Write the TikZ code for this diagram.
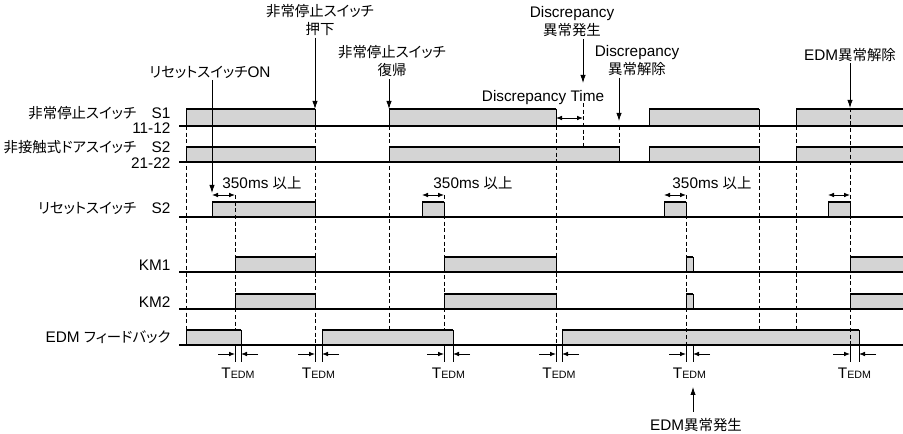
\documentclass[tikz,border=0pt]{standalone}
\usepackage{fontspec}
\setmainfont{Liberation Sans}
\newfontfamily\jp[Scale=0.94,RawFeature=+palt]{Noto Sans CJK JP}
\usetikzlibrary{arrows.meta}

% one high phase of a signal: x from, x to, low level, high level
\newcommand{\tpulse}[4]{%
  \fill[pulsefill] (#1,#3) rectangle (#2,#4);
  \draw[pedge] (#1,#3) -- (#1,#4);
  \draw[pedge] (#2,#4) -- (#2,#3);
  \draw[hiline] (#1,#4) -- (#2,#4);
}
% TEDM gap marker below the EDM line
\newcommand{\tedm}[3]{%
  \draw[pedge] (#1,345) -- (#1,362) (#2,345) -- (#2,362);
  \draw[dim] (#1-17,354) -- (#1,354);
  \draw[dim] (#2+17,354) -- (#2,354);
  \node (#3) at ({(#1+#2)/2},373) {T{\fontsize{8}{9}\selectfont EDM}};
}

\begin{document}
\begin{tikzpicture}[
  x=0.75pt, y=-0.75pt,
  every node/.style={inner sep=1pt, font=\fontsize{11.5}{13.5}\selectfont},
  lbl/.style={anchor=east},
  note/.style={align=center},
  pulsefill/.style={fill=black!17},
  pedge/.style={line width=0.6pt},
  hiline/.style={line width=1.8pt},
  base/.style={line width=0.8pt},
  guide/.style={dash pattern=on 3pt off 2pt, line width=0.6pt},
  arrow/.style={-{Latex[length=6pt,width=4pt]}, line width=0.6pt},
  dim/.style={-{Latex[length=4.5pt,width=3.5pt]}, line width=0.6pt},
  dimboth/.style={{Latex[length=4.5pt,width=3.5pt]}-{Latex[length=4.5pt,width=3.5pt]}, line width=0.6pt}
]
\useasboundingbox (0,0) rectangle (903,434);

% signal names
\node[lbl] (s1) at (172,113) {{\jp 非常停止スイッチ}\quad S1};
\node[lbl] (s1n) at (172,128) {11-12};
\node[lbl] (s2) at (172,147) {{\jp 非接触式ドアスイッチ}\quad S2};
\node[lbl] (s2n) at (172,163) {21-22};
\node[lbl] (rst) at (172,208) {{\jp リセットスイッチ}\quad S2};
\node[lbl] (km1) at (172,265) {KM1};
\node[lbl] (km2) at (172,302) {KM2};
\node[lbl] (edm) at (172,337) {EDM {\jp フィードバック}};

% high phases
\foreach \a/\b in {186/315, 389/556, 649/759, 796/906} \tpulse{\a}{\b}{126}{109};
\foreach \a/\b in {186/315, 389/619, 649/759, 796/906} \tpulse{\a}{\b}{162}{147};
\foreach \a/\b in {212/315, 422/444, 664/686, 828/850} \tpulse{\a}{\b}{217}{202};
\foreach \a/\b in {235/315, 444/556, 686/693, 850/906} \tpulse{\a}{\b}{272}{257};
\foreach \a/\b in {235/315, 444/556, 686/693, 850/906} \tpulse{\a}{\b}{309}{294};
\foreach \a/\b in {186/241, 322/453, 562/859} \tpulse{\a}{\b}{345}{330};

% low lines
\foreach \y in {126,162,217,272,309,345} \draw[base] (179,\y) -- (906,\y);

% timing guides
\foreach \x/\ya/\yb in {186/126/330, 235/195/330, 315/126/345, 389/126/330,
  444/195/330, 556/126/345, 583/103/147, 619/126/147, 686/195/345,
  759/126/330, 796/126/330, 850/108/345}
  \draw[guide] (\x,\ya) -- (\x,\yb);

% events
\node[note] (push) at (320,20.5) {{\jp 非常停止スイッチ}\\{\jp 押下}};
\node (ron) at (210,72) {{\jp リセットスイッチ}ON};
\node[note] (back) at (392,61.5) {{\jp 非常停止スイッチ}\\{\jp 復帰}};
\node[note] (dng) at (572,22) {Discrepancy\\{\jp 異常発生}};
\node[note] (dok) at (637,61) {Discrepancy\\{\jp 異常解除}};
\node (edmok) at (850,55) {EDM{\jp 異常解除}};
\node (dtime) at (543,98) {Discrepancy Time};
\node (edmng) at (696,425) {EDM{\jp 異常発生}};

\coordinate (pushT) at (315,109);
\coordinate (ronT) at (212,193);
\coordinate (backT) at (389,109);
\coordinate (dngT) at (583,83);
\coordinate (dokT) at (619,121);
\coordinate (edmokT) at (850,108);
\coordinate (edmngT) at (693,387);

\draw[arrow] (push.south -| pushT) -- (pushT);
\draw[arrow] (ron.south -| ronT) -- (ronT);
\draw[arrow] (back.south -| backT) -- (backT);
\draw[arrow] (dng.south -| dngT) -- (dngT);
\draw[arrow] (dok.south -| dokT) -- (dokT);
\draw[arrow] (edmok.south -| edmokT) -- (edmokT);
\draw[arrow] (edmng.north -| edmngT) ++(0,-5) -- (edmngT);

% minimum reset times
\node (t350a) at (262,183) {350ms {\jp 以上}};
\node (t350b) at (473,183) {350ms {\jp 以上}};
\node (t350c) at (712,183) {350ms {\jp 以上}};
\foreach \a/\b in {212/235, 422/444, 664/686, 828/850}
  \draw[dimboth] (\a,195) -- (\b,195);
\draw[dimboth] (556,118) -- (583,118);

% EDM delays
\tedm{235}{241}{te1}
\tedm{315}{322}{te2}
\tedm{444}{453}{te3}
\tedm{556}{562}{te4}
\tedm{686}{693}{te5}
\tedm{850}{859}{te6}
\end{tikzpicture}
\end{document}
